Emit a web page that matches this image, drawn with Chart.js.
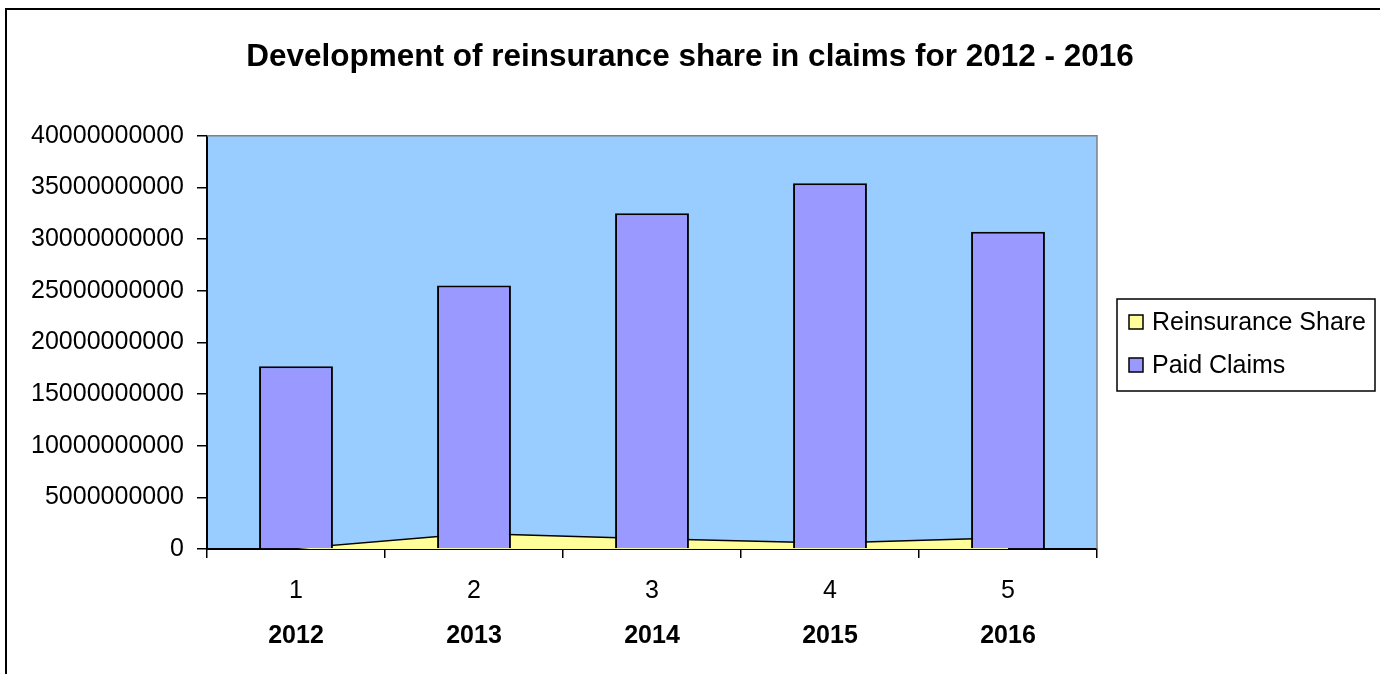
<!DOCTYPE html>
<html>
<head>
<meta charset="utf-8">
<script src="https://cdn.jsdelivr.net/npm/chart.js@4/dist/chart.umd.min.js"></script>
<style>
  html, body { margin: 0; padding: 0; background: #fff; }
  canvas { display: block; }
</style>
</head>
<body>
<canvas id="chart" width="1380" height="674"></canvas>
<script>
const categories = ['1', '2', '3', '4', '5'];
const years = ['2012', '2013', '2014', '2015', '2016'];
const reinsuranceShare = [60000000, 1500000000, 1000000000, 580000000, 1100000000];
const paidClaims = [17700000000, 25500000000, 32500000000, 35400000000, 30700000000];
const yTicks = { min: 0, max: 40000000000, step: 5000000000 };

const FONT = "'Liberation Sans', Arial, sans-serif";

// white page, the frame edge and the plot background
const framePlugin = {
  id: 'frame',
  beforeDraw(chart) {
    const { ctx, chartArea: a } = chart;
    ctx.save();
    ctx.fillStyle = '#ffffff';
    ctx.fillRect(0, 0, chart.width, chart.height);
    ctx.strokeStyle = '#000';
    ctx.lineWidth = 2;
    ctx.beginPath();
    ctx.moveTo(6, chart.height);
    ctx.lineTo(6, 9);
    ctx.lineTo(chart.width, 9);
    ctx.stroke();
    ctx.fillStyle = '#99CCFF';
    ctx.fillRect(a.left, a.top, a.right - a.left, a.bottom - a.top);
    ctx.restore();
  },
  afterDraw(chart) {
    const { ctx, chartArea: a } = chart;
    ctx.save();
    ctx.strokeStyle = '#808080';
    ctx.lineWidth = 1.5;
    ctx.beginPath();
    ctx.moveTo(a.left, a.top);
    ctx.lineTo(a.right, a.top);
    ctx.lineTo(a.right, a.bottom);
    ctx.stroke();
    ctx.restore();
  }
};

// boxed legend to the right of the plot, in dataset order
const legendBoxPlugin = {
  id: 'legendBox',
  afterDraw(chart) {
    const { ctx } = chart;
    const left = 1117, top = 299, right = 1375, bottom = 391;
    const rowY = [322, 365];
    ctx.save();
    ctx.strokeStyle = '#000';
    ctx.lineWidth = 1.5;
    ctx.strokeRect(left, top, right - left, bottom - top);
    ctx.font = '25px ' + FONT;
    ctx.textBaseline = 'middle';
    ctx.textAlign = 'left';
    chart.data.datasets.forEach((ds, i) => {
      const y = rowY[i];
      ctx.fillStyle = ds.backgroundColor;
      ctx.fillRect(1129, y - 7, 14, 14);
      ctx.strokeStyle = '#000';
      ctx.lineWidth = 1.5;
      ctx.strokeRect(1129, y - 7, 14, 14);
      ctx.fillStyle = '#000';
      ctx.fillText(ds.label, 1152, y + 1);
    });
    ctx.restore();
  }
};

const ctx = document.getElementById('chart').getContext('2d');
new Chart(ctx, {
  data: {
    labels: categories,
    datasets: [
      {
        type: 'line',
        label: 'Reinsurance Share',
        data: reinsuranceShare,
        fill: 'origin',
        backgroundColor: '#FFFF99',
        borderColor: '#000000',
        borderWidth: 1.5,
        pointRadius: 0,
        tension: 0,
        order: 2,
      },
      {
        type: 'bar',
        label: 'Paid Claims',
        data: paidClaims,
        backgroundColor: '#9999FF',
        borderColor: '#000000',
        borderWidth: 2,
        barPercentage: 0.415,
        categoryPercentage: 1,
        order: 1,
      },
    ],
  },
  options: {
    responsive: false,
    animation: false,
    devicePixelRatio: 1,
    layout: { padding: 0 },
    scales: {
      x: {
        type: 'category',
        position: 'bottom',
        offset: true,
        grid: {
          offset: true,
          drawOnChartArea: false,
          drawTicks: true,
          tickLength: 9,
          color: '#000',
          lineWidth: 1.5,
        },
        border: { display: true, color: '#000', width: 2 },
        ticks: { color: '#000', padding: 18, maxRotation: 0, font: { family: FONT, size: 25 } },
        afterFit: (scale) => { scale.height = 60; },
      },
      x2: {
        type: 'category',
        position: 'bottom',
        labels: years,
        offset: true,
        grid: { display: false, drawTicks: false, tickLength: 0 },
        border: { display: false },
        ticks: { color: '#000', padding: 12, maxRotation: 0, font: { family: FONT, size: 25, weight: 'bold' } },
        afterFit: (scale) => { scale.height = 65; },
      },
      y: {
        type: 'linear',
        position: 'left',
        min: yTicks.min,
        max: yTicks.max,
        grid: {
          drawOnChartArea: false,
          drawTicks: true,
          tickLength: 10,
          color: '#000',
          lineWidth: 1.5,
        },
        border: { display: true, color: '#000', width: 2 },
        ticks: {
          stepSize: yTicks.step,
          color: '#000',
          padding: 13,
          font: { family: FONT, size: 25 },
          callback: (v) => String(v),
        },
        afterFit: (scale) => { scale.width = 207; },
      },
      // empty band on the right that holds the legend
      side: {
        type: 'linear',
        position: 'right',
        display: true,
        grid: { display: false },
        border: { display: false },
        ticks: { display: false },
        afterFit: (scale) => { scale.width = 283; },
      },
    },
    plugins: {
      title: {
        display: true,
        text: 'Development of reinsurance share in claims for 2012 - 2016',
        color: '#000',
        font: { family: FONT, size: 31.5, weight: 'bold' },
        padding: { top: 38, bottom: 60 },
      },
      legend: { display: false },
      tooltip: { enabled: false },
    },
  },
  plugins: [framePlugin, legendBoxPlugin],
});
</script>
</body>
</html>
